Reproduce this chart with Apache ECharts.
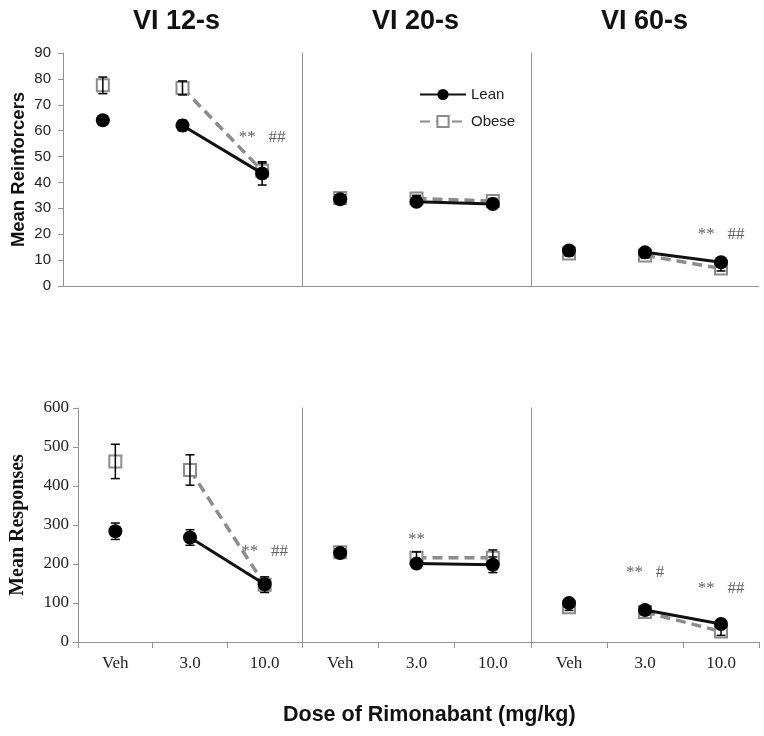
<!DOCTYPE html>
<html>
<head>
<meta charset="utf-8">
<script src="https://cdn.jsdelivr.net/npm/echarts@6/dist/echarts.min.js"></script>
<style>html,body{margin:0;padding:0;background:#fff;}#c{width:764px;height:736px;}</style>
</head>
<body>
<div id="c"></div>
<script>
// ---- data ----
const categories = ['Veh', '3.0', '10.0'];
const groupTitles = ['VI 12-s', 'VI 20-s', 'VI 60-s'];
const seriesNames = ['Lean', 'Obese'];
const topTicks = [0, 90, 10];      // min, max, interval (Mean Reinforcers)
const bottomTicks = [0, 600, 100]; // min, max, interval (Mean Responses)

// Mean Reinforcers
const reinfLean12 = [64, 62, 43.5];   const reinfLean12Err = [1.5, 2, 4.5];
const reinfObese12 = [77.5, 76.5, 44.5]; const reinfObese12Err = [3.2, 2.7, 3];
const reinfLean20 = [33.5, 32.5, 31.7];  const reinfLean20Err = [1, 1, 1];
const reinfObese20 = [34, 33.8, 32.8];   const reinfObese20Err = [1, 1.2, 1];
const reinfLean60 = [13.7, 13, 9.2];     const reinfLean60Err = [1, 1, 1];
const reinfObese60 = [12.6, 11.8, 6.8];  const reinfObese60Err = [1, 1, 1];

// Mean Responses
const respLean12 = [284, 268, 148];   const respLean12Err = [21, 20, 12];
const respObese12 = [463, 441, 147];  const respObese12Err = [44, 39, 20];
const respLean20 = [228, 201, 198];   const respLean20Err = [10, 12, 20];
const respObese20 = [230, 216, 216];  const respObese20Err = [8, 15, 20];
const respLean60 = [100, 82, 46];     const respLean60Err = [8, 8, 8];
const respObese60 = [89, 77, 27];     const respObese60Err = [8, 8, 10];

// significance annotations: [panelIndex, category, value, text]
const annotations = [
  [0, '10.0', 57.5, '**   ##'],
  [2, '10.0', 19.7, '**   ##'],
  [3, '10.0', 231, '**   ##'],
  [4, '3.0', 264, '**'],
  [5, '3.0', 177, '**   #'],
  [5, '10.0', 136, '**   ##']
];

const panels = [
  [reinfLean12, reinfLean12Err, reinfObese12, reinfObese12Err],
  [reinfLean20, reinfLean20Err, reinfObese20, reinfObese20Err],
  [reinfLean60, reinfLean60Err, reinfObese60, reinfObese60Err],
  [respLean12, respLean12Err, respObese12, respObese12Err],
  [respLean20, respLean20Err, respObese20, respObese20Err],
  [respLean60, respLean60Err, respObese60, respObese60Err]
];

// ---- layout ----
const gridDefs = [
  {left: 63, top: 53, width: 239, height: 233},
  {left: 302, top: 53, width: 229, height: 233},
  {left: 531, top: 53, width: 228, height: 233},
  {left: 78, top: 408, width: 224, height: 234},
  {left: 302, top: 408, width: 229, height: 234},
  {left: 531, top: 408, width: 228, height: 234}
];
const AXIS = '#939393';
const SANS = 'Liberation Sans';
const SERIF = 'Liberation Serif';

const xAxes = [], yAxes = [], series = [];
gridDefs.forEach((g, i) => {
  const bottom = i >= 3;
  const first = i % 3 === 0;
  const ticks = bottom ? bottomTicks : topTicks;
  xAxes.push({
    type: 'category', gridIndex: i, data: categories, boundaryGap: true,
    axisLine: {show: true, lineStyle: {color: AXIS, width: 1}},
    axisTick: {show: bottom, length: 6, lineStyle: {color: AXIS}},
    axisLabel: {show: bottom, fontFamily: SERIF, fontSize: 17, color: '#222', margin: 13},
    splitLine: {show: false}
  });
  yAxes.push({
    type: 'value', gridIndex: i, min: ticks[0], max: ticks[1], interval: ticks[2],
    axisLine: {show: true, lineStyle: {color: AXIS, width: 1}},
    axisTick: {show: first, length: 5, lineStyle: {color: AXIS}},
    axisLabel: {show: first, fontFamily: bottom ? SERIF : SANS, fontSize: bottom ? 17 : 15,
                color: '#222', margin: bottom ? 9 : 12},
    splitLine: {show: false},
    name: first ? (bottom ? 'Mean Responses' : 'Mean Reinforcers') : '',
    nameLocation: 'middle',
    nameGap: bottom ? 50 : 35,
    nameTextStyle: {fontFamily: bottom ? SERIF : SANS, fontWeight: 'bold',
                    fontSize: bottom ? 20 : 18.5, color: '#111'}
  });

  const [lean, leanErr, obese, obeseErr] = panels[i];
  const obeseStyle = {
    symbol: 'rect', symbolSize: 12,
    itemStyle: {color: '#fff', borderColor: '#8c8c8c', borderWidth: 2},
    lineStyle: {color: '#8c8c8c', width: 3.5, type: [10, 6]}
  };
  const leanStyle = {
    symbol: 'circle', symbolSize: 14,
    itemStyle: {color: '#000'},
    lineStyle: {color: '#111', width: 3}
  };
  series.push(Object.assign({
    name: 'Obese', type: 'line', xAxisIndex: i, yAxisIndex: i, z: 2,
    data: ['-', obese[1], obese[2]], showAllSymbol: true, animation: false
  }, obeseStyle));
  series.push(Object.assign({
    name: 'Obese', type: 'line', xAxisIndex: i, yAxisIndex: i, z: 2,
    data: [obese[0], '-', '-'], showAllSymbol: true, animation: false
  }, obeseStyle));
  series.push(Object.assign({
    name: 'Lean', type: 'line', xAxisIndex: i, yAxisIndex: i, z: 3,
    data: ['-', lean[1], lean[2]], showAllSymbol: true, animation: false
  }, leanStyle));
  series.push(Object.assign({
    name: 'Lean', type: 'line', xAxisIndex: i, yAxisIndex: i, z: 3,
    data: [lean[0], '-', '-'], showAllSymbol: true, animation: false
  }, leanStyle));
  const errData = [];
  categories.forEach((c, k) => {
    errData.push([k, obese[k], obeseErr[k]]);
    errData.push([k, lean[k], leanErr[k]]);
  });
  series.push({
    name: 'err', type: 'custom', xAxisIndex: i, yAxisIndex: i, z: 4, animation: false,
    encode: {x: 0, y: 1},
    data: errData,
    renderItem: function (params, api) {
      const x = api.value(0), y = api.value(1), e = api.value(2);
      const p1 = api.coord([x, y + e]);
      const p2 = api.coord([x, y - e]);
      const w = 4.5;
      const st = {stroke: '#000', lineWidth: 1.5};
      return {type: 'group', children: [
        {type: 'line', shape: {x1: p1[0], y1: p1[1], x2: p2[0], y2: p2[1]}, style: st},
        {type: 'line', shape: {x1: p1[0] - w, y1: p1[1], x2: p1[0] + w, y2: p1[1]}, style: st},
        {type: 'line', shape: {x1: p2[0] - w, y1: p2[1], x2: p2[0] + w, y2: p2[1]}, style: st}
      ]};
    }
  });
  const ann = annotations.filter(a => a[0] === i).map(a => ({value: [a[1], a[2]], name: a[3]}));
  if (ann.length) {
    series.push({
      name: 'ann', type: 'scatter', xAxisIndex: i, yAxisIndex: i, z: 5, animation: false,
      symbolSize: 0.1, itemStyle: {color: 'rgba(0,0,0,0)'},
      data: ann,
      label: {show: true, position: 'inside', formatter: p => p.name,
              fontFamily: SERIF, fontSize: 17, color: '#3a3a3a'}
    });
  }
});

const titleCenters = [177, 416, 645];
const graphics = groupTitles.map((t, k) => ({
  type: 'text', left: titleCenters[k] - 44, top: 8,
  style: {text: t, fontFamily: SANS, fontWeight: 'bold', fontSize: 27, fill: '#111'}
}));
graphics.push({
  type: 'text', left: 283, top: 704,
  style: {text: 'Dose of Rimonabant (mg/kg)', fontFamily: SANS, fontWeight: 'bold', fontSize: 21.5, fill: '#111'}
});

const chart = echarts.init(document.getElementById('c'), null, {renderer: 'canvas'});
chart.setOption({
  backgroundColor: '#fff',
  animation: false,
  grid: gridDefs,
  xAxis: xAxes,
  yAxis: yAxes,
  legend: {
    data: seriesNames, orient: 'vertical', left: 414, top: 82,
    itemWidth: 46, itemHeight: 14, itemGap: 12,
    textStyle: {fontFamily: SANS, fontSize: 15, color: '#222'}
  },
  graphic: graphics,
  series: series
});
</script>
</body>
</html>
